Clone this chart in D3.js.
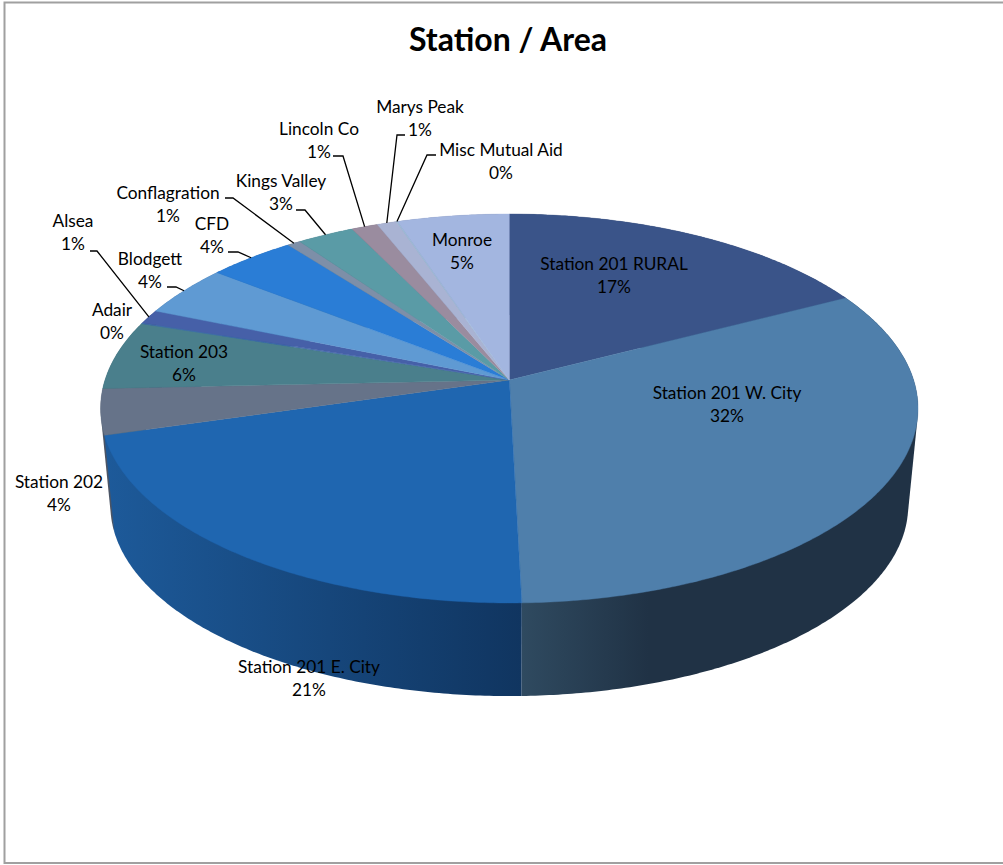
<!DOCTYPE html>
<html><head><meta charset="utf-8">
<script src="https://d3js.org/d3.v7.min.js"></script>
<style>html,body{margin:0;padding:0;background:#fff}svg{display:block}</style>
</head><body><svg id="c" width="1003" height="865"></svg>
<script>
const categories = ["Station 201 RURAL","Station 201 W. City","Station 201 E. City","Station 202","Station 203","Adair","Alsea","Blodgett","CFD","Conflagration","Kings Valley","Lincoln Co","Marys Peak","Misc Mutual Aid","Monroe"];
const values = [17.4,32.18,20.92,3.8,5.7,0.1,1.15,4.3,4,0.6,2.6,1.2,0.9,0.05,5.1];
const topColors = ["#3a5489","#4f7fab","#1f66b0","#667389","#4a7f8c","#3f6fa8","#4660a8","#5f9ad3","#2a7dd6","#7d8fa8","#5a9ba6","#9a8c9f","#a9b3d3","#9fc3d8","#a3b6e0"];
const wallLeft = ["#243a60","#2f4a60","#1d5a9a","#555f70","#37606a","#2f4a70","#2f4070","#3f6a94","#1d5696","#566478","#3f6c74","#6a6270","#757d94","#708898","#727f9e"];
const wallRight = ["#243a60","#203245","#103560","#4a5465","#37606a","#2f4a70","#2f4070","#3f6a94","#1d5696","#566478","#3f6c74","#6a6270","#757d94","#708898","#727f9e"];
// label anchor layout: centre x, first line y, optional leader elbow [x0,x1,y]
const labelLayout = [[614,264],[727,393],[309,667],[59,482],[184,352],[112,310],[73,221,[90,97,251]],[150,259,[167,176,287]],[212,224,[228,238,252]],[168,193,[225,233,198]],[281,181,[296,305,210]],[319,129,[333,343,156]],[420,107,[405,397,135]],[501,150,[436,427,155]],[462,240]];

const svg = d3.select("#c");
const font = "Lato, 'Open Sans', sans-serif";
svg.append("rect").attr("x",4.5).attr("y",2.5).attr("width",1010).attr("height",860.5).attr("fill","#fff").attr("stroke","#a0a0a0").attr("stroke-width",2);
svg.append("text").attr("x",508).attr("y",51).attr("text-anchor","middle").attr("font-family",font).attr("font-weight",700).attr("font-size",32).attr("fill","#000").text("Station / Area");

// perspective projection of the pie's unit disc
const cx=509.3, cy=380, p=0.1465, a=190.3, b=404.3;
const proj = (ang,r=1)=>{const x=r*Math.sin(ang), y=-r*Math.cos(ang), w=1-p*y; return [cx+b*x/w, cy+a*y/w];};
const lower = ([X,Y])=>[cx+(X-cx)*0.976, 505+(Y-408)*0.98];
const arcs = d3.pie().sort(null).value(d=>d)(values);
const line = d3.line();
const arcPts = (s,e)=>{const n=Math.max(2,Math.ceil((e-s)/0.01));return d3.range(n+1).map(i=>proj(s+(e-s)*i/n));};
const fmt = d3.format(".0%"), total = d3.sum(values);

const defs = svg.append("defs");
// walls, back to front; each wall is the hull of its top and bottom rims, the top faces cover the rest
const order = arcs.map((d,i)=>i).sort((m,n)=>{
  const y=d=>-Math.cos((d.startAngle+d.endAngle)/2); return y(arcs[m])-y(arcs[n]);});
order.forEach(i=>{
  const d=arcs[i], t=arcPts(d.startAngle,d.endAngle), bt=t.map(lower);
  const xs=t.map(q=>q[0]);
  const x0=d3.min(xs), x1=d3.max(xs);
  const g=defs.append("linearGradient").attr("id","w"+i).attr("gradientUnits","userSpaceOnUse")
    .attr("x1",x0).attr("x2",i===1?x0+(x1-x0)*0.32:x1).attr("y1",0).attr("y2",0);
  g.append("stop").attr("offset",0).attr("stop-color",wallLeft[i]);
  g.append("stop").attr("offset",1).attr("stop-color",wallRight[i]);
  svg.append("path").attr("d",line(d3.polygonHull(t.concat(bt)))+"Z").attr("fill",`url(#w${i})`);
});
// top faces
arcs.forEach((d,i)=>{
  svg.append("path").attr("d",line([[cx,cy]].concat(arcPts(d.startAngle,d.endAngle)))+"Z").attr("fill",topColors[i]).attr("stroke",topColors[i]).attr("stroke-width",0.4);
});
// leaders and labels
arcs.forEach((d,i)=>{
  const [lx,ly,el]=labelLayout[i];
  if(el){
    const end=proj((d.startAngle+d.endAngle)/2);
    svg.append("path").attr("d",line([[el[0],el[2]],[el[1],el[2]],end])).attr("fill","none").attr("stroke","#000").attr("stroke-width",1.3);
  }
  const t=svg.append("text").attr("text-anchor","middle").attr("font-family",font).attr("font-size",17.3).attr("fill","#000");
  t.append("tspan").attr("x",lx).attr("y",ly+6).text(categories[i]);
  t.append("tspan").attr("x",lx).attr("y",ly+29).text(fmt(values[i]/total));
});
</script></body></html>
